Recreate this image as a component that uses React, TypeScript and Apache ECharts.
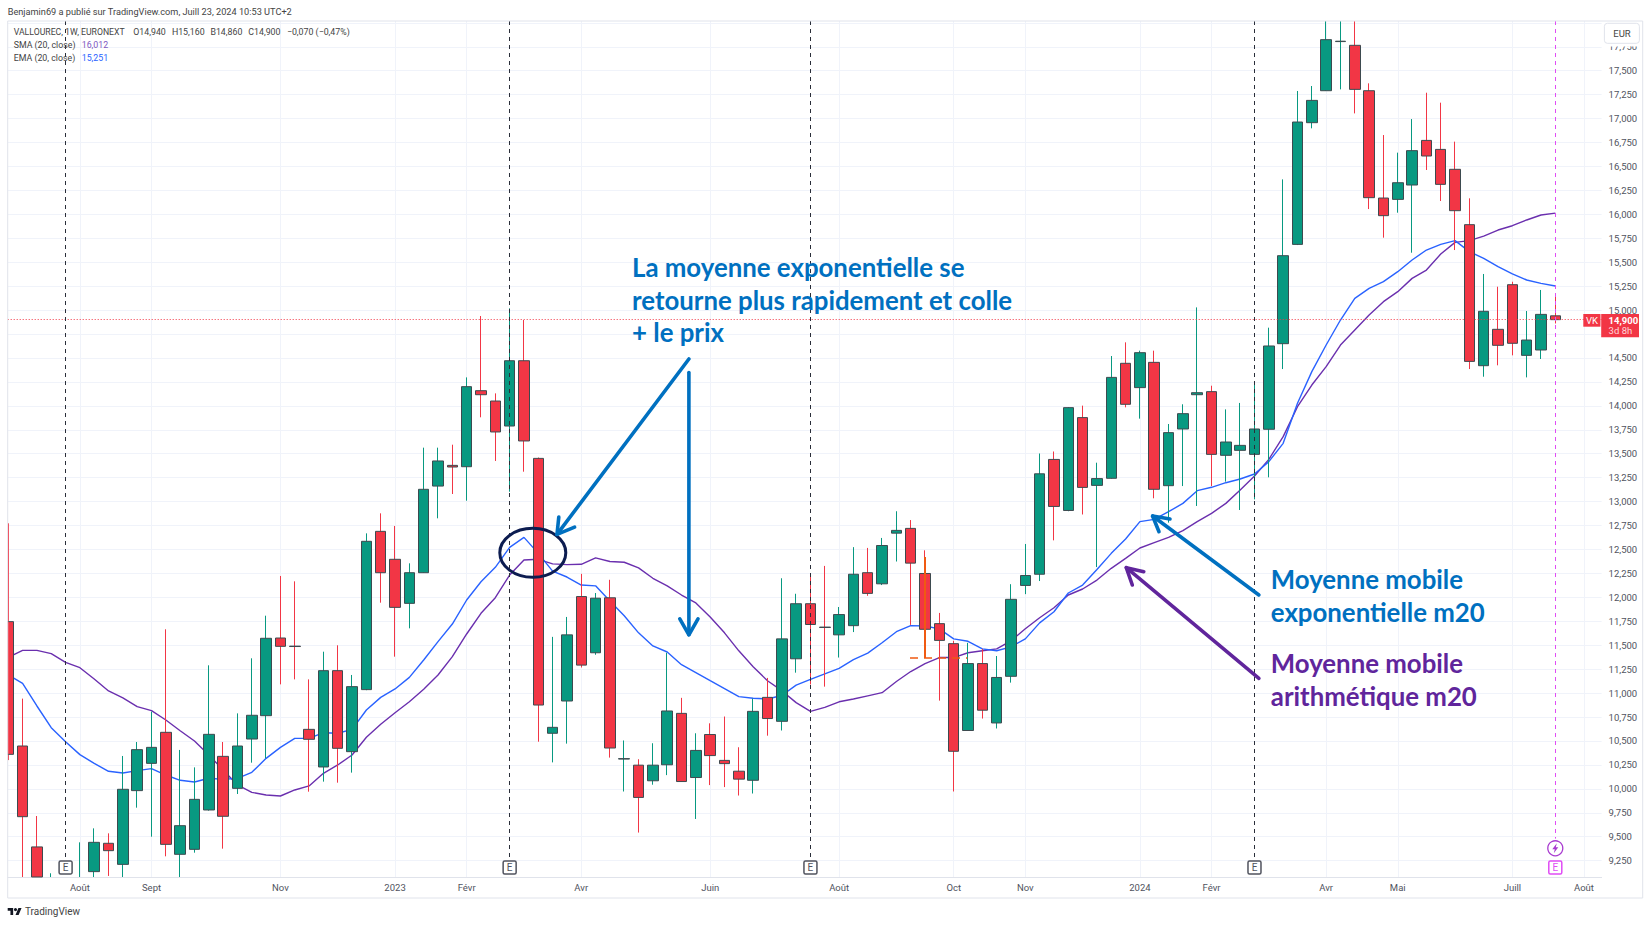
import React, { useEffect, useRef } from "react";
import * as echarts from "echarts";

const opens = [11746,10447,9393,8950,8850,8900,9135,9431,9211,9981,10266,10590,9316,9368,9779,10339,10005,10520,10764,11575,11490,10621,10228,11234,10388,11036,12689,12397,11937,12257,13162,13378,13364,14158,14050,13789,14471,13451,10580,10917,12008,11421,11995,10311,10247,10084,10251,10788,10118,10567,10297,10184,10089,10955,10705,11358,11933,11689,11608,11704,12257,12141,12670,12720,12249,11725,11516,10609,11308,10688,11175,12124,12241,13440,12907,13877,13169,13243,14444,14190,14454,13166,13758,14116,14148,13483,13535,13493,13755,14649,15686,16957,17291,17804,17765,17291,16170,16156,16306,16772,16678,16470,15892,14419,14799,15265,14527,14583,14940];
const closes = [10360,9709,8900,8800,8950,9050,9441,9354,9995,10409,10433,9420,9615,9890,10569,9713,10447,10768,11572,11488,11486,10517,11234,10423,11067,12585,12257,11895,12257,13128,13424,13361,14200,14116,13727,14471,13633,10875,10642,11608,11292,11991,10426,10315,9910,10247,10813,10076,10401,10347,10263,10101,10809,10734,11566,11933,11716,11685,11820,12241,12041,12541,12699,12357,11666,11550,10392,11308,10821,11163,11979,12228,13290,12949,13981,13148,13240,14297,14016,14555,13128,13720,13918,14137,13493,13622,13587,13758,14625,15568,16964,17190,17824,17808,17305,16174,15986,16330,16665,16609,16313,16038,14464,14987,14632,14653,14687,14955,14900];
const lows = [10300,9000,8700,8700,8700,8800,9050,9090,9050,9803,9500,9295,9050,9333,9772,9375,9946,10273,10318,11091,11143,9970,10075,10064,10169,11030,11944,11380,11676,12257,12825,13079,13009,13880,13424,13103,13312,10492,10276,10472,11267,11400,10326,9972,9543,10043,10143,10076,9685,10039,10018,9930,9951,10555,10609,11213,11090,11067,11371,11637,12016,12128,12374,11712,11560,10921,9972,10609,10734,10630,11109,12033,12170,12595,12899,12865,12316,13240,13984,13866,13034,12780,13162,12954,13162,13208,12912,13023,13253,14384,15679,16898,17291,17305,17054,16055,15756,16017,15599,16463,16139,15627,14384,14304,14423,14527,14297,14489,14860];
const highs = [12773,10942,9716,9118,9000,9441,9587,9535,10343,10489,10806,11666,10406,10224,11290,10489,10788,11363,11808,12223,12167,11143,11432,11499,11189,12668,12877,12745,12355,13563,13563,13594,14297,14938,14130,15018,14896,13460,11587,11795,12245,12045,12183,10505,10309,10476,11421,10950,10580,10684,10755,10434,10942,11158,12199,12037,12241,12328,11899,12524,12516,12620,12899,12807,12491,11837,11546,11525,11462,11387,12137,12557,13502,13523,13985,14002,13406,14520,14663,14576,14576,13810,14016,15028,14210,13963,14030,14235,14816,16365,17288,17340,18100,18100,18100,17368,16828,16644,16995,17270,17166,16759,16167,15377,15244,15296,14990,15210,15160];
const smaValues = [11373,11446,11446,11412,11321,11265,11147,11022,10949,10858,10816,10719,10607,10499,10353,10197,10040,9963,9936,9925,9988,10030,10162,10249,10353,10538,10674,10795,10910,11039,11189,11380,11617,11833,11996,12233,12390,12397,12349,12341,12345,12412,12374,12366,12307,12199,12120,12024,11941,11795,11629,11441,11275,11129,11025,10900,10809,10850,10909,10938,10971,11004,11121,11225,11308,11371,11371,11421,11442,11462,11546,11671,11787,11891,12024,12087,12180,12303,12407,12515,12571,12626,12696,12790,12877,12981,13121,13267,13441,13678,13991,14217,14409,14635,14792,14948,15088,15192,15331,15418,15585,15707,15725,15773,15836,15881,15941,15993,16012];
const emaValues = [11189,11102,10865,10639,10492,10357,10266,10183,10165,10190,10211,10144,10089,10071,10110,10099,10110,10172,10318,10433,10527,10527,10586,10580,10621,10823,10955,11043,11164,11345,11537,11721,11972,12163,12313,12522,12626,12459,12274,12212,12128,12120,11962,11808,11629,11492,11429,11296,11213,11129,11046,10963,10946,10938,10975,11083,11142,11200,11258,11350,11417,11525,11641,11704,11700,11671,11566,11541,11462,11442,11483,11566,11733,11849,12045,12128,12290,12459,12609,12790,12814,12894,12981,13114,13149,13197,13236,13288,13417,13608,14026,14357,14635,14896,15122,15227,15297,15401,15523,15627,15686,15725,15610,15540,15453,15377,15314,15279,15251];
const priceTicks = [9250,9500,9750,10000,10250,10500,10750,11000,11250,11500,11750,12000,12250,12500,12750,13000,13250,13500,13750,14000,14250,14500,15000,15250,15500,15750,16000,16250,16500,16750,17000,17250,17500,17750];
const hiddenPriceTicks = [14750, 18000];
const monthTicks = [5,10,19,27,32,40,49,58,66,71,79,84,92,97,105,110];
const monthLabels = ["Août","Sept","Nov","2023","Févr","Avr","Juin","Août","Oct","Nov","2024","Févr","Avr","Mai","Juill","Août"];
const earningsBars = [4,35,56,87];
const nextEarningsBar = 108;
const lastPrice = 14900;
const header = "Benjamin69 a publié sur TradingView.com, Juill 23, 2024 10:53 UTC+2";
const ohlcLegend = [
  ["VALLOUREC, 1W, EURONEXT", 13.7, 8.7],
  ["O14,940", 133.3, 8.8],
  ["H15,160", 171.9, 8.8],
  ["B14,860", 210.4, 8.8],
  ["C14,900", 248.3, 8.8],
  ["−0,070 (−0,47%)", 286.9, 8.8],
] as const;

const UP = "#089981";
const DOWN = "#f23645";
const EDGE = "#3d4a4f";
const BLUE = "#0070c0";
const PURPLE = "#60259c";
const SMA_COLOR = "#6a2fae";
const EMA_COLOR = "#2962ff";
const MAGENTA = "#e04df5";
const SANS = "Roboto, sans-serif";
const NOTE = "Lato, sans-serif";

const XMIN = -0.04, XMAX = 111.23, YMIN = 9079, YMAX = 18019;
const clampY = (v: number) => Math.min(YMAX, Math.max(YMIN, v));

function text(t: string, x: number, y: number, fontSize: number, fill: string, extra: any = {}) {
  return {
    type: "text", x, y, z: 120,
    style: { text: t, fontSize, fontFamily: SANS, fill, verticalAlign: "middle", ...extra },
  };
}
function stroke(points: number[][], color: string, lineWidth: number) {
  return {
    type: "polyline", z: 110,
    shape: { points },
    style: { stroke: color, lineWidth, fill: "none", lineCap: "round", lineJoin: "round" },
  };
}
function arrow(from: number[], to: number[], h1: number[], h2: number[], color: string) {
  return [stroke([from, to], color, 3.6), stroke([h1, to, h2], color, 3.6)];
}
function note(t: string, x: number, y: number, fill: string) {
  return {
    type: "text", x, y, z: 120,
    style: { text: t, fontSize: 25.8, fontWeight: 700, fontFamily: NOTE, fill, verticalAlign: "middle" },
  };
}
function earnBox(cx: number, color: string) {
  return [
    { type: "rect", z: 115, shape: { x: cx - 6.5, y: 861, width: 13, height: 13, r: 1.5 }, style: { fill: "#fff", stroke: color, lineWidth: 1.5 } },
    text("E", cx, 867.8, 10, color, { align: "center" }),
  ];
}

export default function App() {
  const ref = useRef<HTMLDivElement>(null);
  useEffect(() => {
    document.body.style.margin = "0";
    echarts.graphic.registerShape(
      "tvlogo",
      echarts.graphic.extendPath("M14 22H7V11H0V4h14v18zM28 22h-8l7.5-18h8L28 22zM20 4a4 4 0 1 1 0 8a4 4 0 1 1 0-8z", {})
    );
    const chart = echarts.init(ref.current!, undefined, { renderer: "svg" });
    const idx = opens.map((_, i) => i);
    // the axis window cuts the marks off: candlesticks are not clipped part-way by ECharts
    const wicks = idx.map((i) => [i, clampY(opens[i]), clampY(closes[i]), clampY(lows[i]), clampY(highs[i])]);
    const bodies = idx
      .filter((i) => Math.max(opens[i], closes[i]) > YMIN)
      .map((i) => {
        const o = clampY(opens[i]), c = clampY(closes[i]);
        return [i, o, c, Math.min(o, c), Math.max(o, c)];
      });
    const barX = (i: number) => 8.3 + 14.324 * i;
    chart.setOption({
      animation: false,
      backgroundColor: "#ffffff",
      grid: { left: 7.7, top: 21, right: 48.4, bottom: 48, containLabel: false },
      xAxis: {
        type: "value", min: XMIN, max: XMAX, scale: true,
        axisLine: { show: true, onZero: false, lineStyle: { color: "#e0e3eb", width: 1 } },
        axisTick: { show: false, customValues: monthTicks },
        splitLine: { show: true, lineStyle: { color: "#f0f3fa", width: 1 } },
        axisLabel: {
          show: true, customValues: monthTicks, margin: 5, fontSize: 9.5, fontFamily: SANS,
          color: (v: number) => (monthLabels[monthTicks.indexOf(v)] || "").startsWith("20") ? "#131722" : "#50535e",
          formatter: (v: number) => monthLabels[monthTicks.indexOf(v)] ?? "",
        },
      },
      yAxis: {
        type: "value", position: "right", min: YMIN, max: YMAX, scale: true,
        axisLine: { show: false },
        axisTick: { show: false, customValues: [...priceTicks, ...hiddenPriceTicks] },
        splitLine: { show: true, lineStyle: { color: "#f0f3fa", width: 1 } },
        axisLabel: {
          show: true, customValues: priceTicks, margin: 7, fontSize: 9.5, fontFamily: SANS, color: "#50535e", align: "left",
          formatter: (v: number) => `${Math.floor(v / 1000)},${String(v % 1000).padStart(3, "0")}`,
        },
      },
      series: [
        {
          name: "SMA (20, close)", type: "line", z: 2, showSymbol: false, symbol: "none",
          data: smaValues.map((v, i) => [i, v]),
          lineStyle: { color: SMA_COLOR, width: 1.4 },
          markLine: {
            silent: true, symbol: "none", animation: false, label: { show: false },
            lineStyle: { color: DOWN, type: [1, 2], width: 1 },
            data: [{ yAxis: lastPrice }],
          },
        },
        {
          name: "EMA (20, close)", type: "line", z: 2, showSymbol: false, symbol: "none",
          data: emaValues.map((v, i) => [i, v]),
          lineStyle: { color: EMA_COLOR, width: 1.4 },
        },
        {
          name: "Mèches", type: "candlestick", z: 3, barWidth: 1, data: wicks,
          itemStyle: { color: UP, color0: DOWN, borderColor: UP, borderColor0: DOWN, borderWidth: 1 },
        },
        {
          name: "VALLOUREC", type: "candlestick", z: 4, barWidth: 11, data: bodies,
          itemStyle: { color: UP, color0: DOWN, borderColor: EDGE, borderColor0: EDGE, borderWidth: 1, borderColorDoji: EDGE },
        },
        {
          name: "Résultats", type: "line", z: 5, data: [], showSymbol: false,
          markLine: {
            silent: true, symbol: "none", animation: false, label: { show: false },
            data: [
              ...earningsBars.map((b) => [
                { coord: [b, YMAX], lineStyle: { color: "#2a2e39", type: [4, 4], width: 1 } },
                { coord: [b, 9250] },
              ]),
              [
                { coord: [nextEarningsBar, YMAX], lineStyle: { color: MAGENTA, type: [4, 4], width: 1 } },
                { coord: [nextEarningsBar, 9480] },
              ],
            ],
          },
        },
      ],
      graphic: [
        { type: "rect", z: 60, shape: { x: 0, y: 21, width: 7.5, height: 857 }, style: { fill: "#fff" } },
        { type: "rect", z: 90, shape: { x: 7.7, y: 21, width: 1635, height: 877 }, style: { fill: "none", stroke: "#e0e3eb", lineWidth: 1 } },
        text(header, 7.7, 11.3, 9.2, "#444444"),
        ...ohlcLegend.map(([t, x, s]) => text(t, x, 31.7, s, "#444444")),
        text("SMA (20, close)", 13.7, 44.7, 8.8, "#444444"),
        text("16,012", 81.7, 44.7, 8.8, "#7e57c2"),
        text("EMA (20, close)", 13.7, 57.7, 8.8, "#444444"),
        text("15,251", 81.7, 57.7, 8.8, "#2962ff"),
        { type: "rect", z: 99, shape: { x: 1603, y: 23, width: 38, height: 23.5 }, style: { fill: "#fff" } },
        { type: "rect", z: 100, shape: { x: 1604.4, y: 23.3, width: 35, height: 20, r: 3 }, style: { fill: "#fff", stroke: "#e0e3eb", lineWidth: 1 } },
        text("EUR", 1622, 33.6, 9.5, "#444444", { align: "center" }),
        { type: "rect", z: 100, shape: { x: 1583.3, y: 314, width: 17.2, height: 12.7 }, style: { fill: DOWN } },
        text("VK", 1592, 320.6, 9.5, "#fff", { align: "center" }),
        { type: "rect", z: 100, shape: { x: 1601.2, y: 314, width: 37.8, height: 23.3 }, style: { fill: DOWN } },
        text("14,900", 1608.6, 320, 9.5, "#fff", { fontWeight: 700 }),
        text("3d 8h", 1608.6, 330.3, 9.5, "#ffd5d9"),
        { type: "ellipse", z: 110, shape: { cx: 532.8, cy: 552.8, rx: 33, ry: 24.5 }, style: { fill: "none", stroke: "#0c1c50", lineWidth: 3 } },
        ...arrow([688.9, 359], [557, 534.4], [558.8, 517], [574.6, 527.2], BLUE),
        ...arrow([688.9, 372.5], [688.9, 634.8], [679.8, 618.9], [698, 618.9], BLUE),
        ...arrow([1258.9, 595], [1152.6, 516], [1170, 519], [1159, 531.7], BLUE),
        ...arrow([1258.9, 678.3], [1126.3, 567.7], [1143.8, 571.7], [1132.3, 585], PURPLE),
        { type: "line", z: 105, shape: { x1: 925, y1: 557, x2: 925, y2: 658 }, style: { stroke: "#f05a12", lineWidth: 2 } },
        { type: "line", z: 105, shape: { x1: 910, y1: 658, x2: 967.4, y2: 658 }, style: { stroke: "#f05a12", lineWidth: 1.5, lineDash: [8, 6] } },
        note("La moyenne exponentielle se", 632, 267, BLUE),
        note("retourne plus rapidement et colle", 632, 300, BLUE),
        note("+ le prix", 632, 332, BLUE),
        note("Moyenne mobile", 1270.8, 579, BLUE),
        note("exponentielle m20", 1270.8, 611.7, BLUE),
        note("Moyenne mobile", 1270.8, 662.7, PURPLE),
        note("arithmétique m20", 1270.8, 695.7, PURPLE),
        ...earningsBars.flatMap((b) => earnBox(barX(b), "#50535e")),
        ...earnBox(barX(nextEarningsBar), MAGENTA),
        { type: "circle", z: 115, shape: { cx: barX(nextEarningsBar), cy: 848.3, r: 7.5 }, style: { fill: "#fff", stroke: "#a93bd0", lineWidth: 1.3 } },
        {
          type: "polygon", z: 116,
          shape: { points: [[1.5, -5], [-3, 1], [-0.5, 1], [-1.5, 5], [3, -1], [0.5, -1]].map(([a, b]) => [barX(nextEarningsBar) + a, 848.3 + b]) },
          style: { fill: "#a93bd0" },
        },
        { type: "tvlogo", z: 120, x: 7.7, y: 906.5, scaleX: 0.39, scaleY: 0.39, style: { fill: "#131722" } },
        text("TradingView", 25, 911.7, 10, "#444444"),
      ],
    });
    return () => chart.dispose();
  }, []);
  return <div ref={ref} style={{ position: "absolute", left: 0, top: 0, width: 1650, height: 925 }} />;
}
